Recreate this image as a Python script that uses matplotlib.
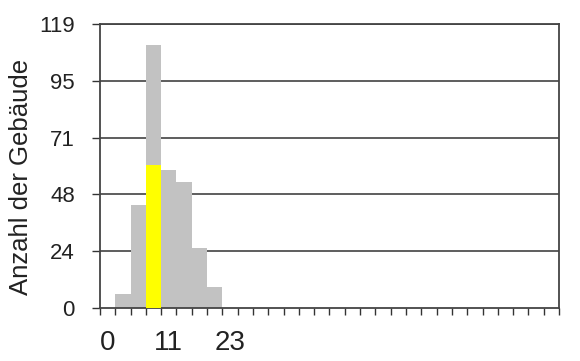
import matplotlib
matplotlib.use("Agg")
import matplotlib.pyplot as plt
import numpy as np

plt.rcParams["font.family"] = ["Liberation Sans", "DejaVu Sans"]

# histogram counts per bin (30 bins)
counts = [0, 6, 43, 110, 58, 53, 25, 9] + [0] * 22
highlight_bin = 3
highlight_value = 60
x_tick_labels = {0: "0", 4: "11", 8: "23"}
y_max = 119
y_tick_labels = ["0", "24", "48", "71", "95", "119"]

n_bins = len(counts)
x = np.arange(n_bins)

fig = plt.figure(figsize=(5.8, 3.61), dpi=100)
ax = fig.add_axes([0.1724, 0.1468, 0.7914, 0.7867])

yticks = np.linspace(0, y_max, len(y_tick_labels))
for yv in yticks[1:]:
    ax.axhline(yv, color="#505050", linewidth=1.3, zorder=1)

ax.bar(x, counts, width=1.0, color="#c2c2c2", edgecolor="none", zorder=2)
ax.bar(highlight_bin, highlight_value, width=1.0, color="#ffff00",
       edgecolor="none", zorder=3)

ax.set_xlim(-0.5, n_bins - 0.5)
ax.set_ylim(0, y_max)

ax.set_yticks(yticks)
ax.set_yticklabels(y_tick_labels, fontsize=16, color="#222222")
ax.set_xticks(list(x_tick_labels.keys()))
ax.set_xticklabels(list(x_tick_labels.values()), fontsize=20, color="#222222")
ax.set_xticks(np.arange(n_bins + 1) - 0.5, minor=True)
ax.tick_params(axis="x", which="major", length=0, pad=16)
ax.tick_params(axis="x", which="minor", length=5, width=1, color="#333333",
               direction="out")
ax.tick_params(axis="y", length=6, width=1, color="#333333", pad=12)

for side in ["left", "bottom", "right", "top"]:
    ax.spines[side].set_color("#444444")
    ax.spines[side].set_linewidth(1.3)

ax.set_ylabel("Anzahl der Gebäude", fontsize=18.5, color="#222222")
ax.yaxis.set_label_coords(-0.146, 0.461)

fig.savefig("out.png", dpi=100)
